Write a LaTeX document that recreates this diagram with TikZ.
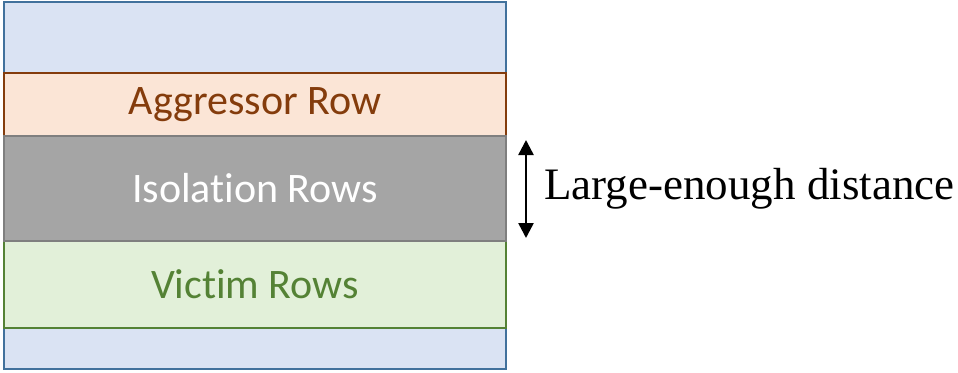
\documentclass[tikz,border=0pt]{standalone}
\usepackage{fontspec}
\setmainfont{Liberation Serif}
\newfontfamily\rowfont[Ligatures={NoCommon,NoDiscretionary,NoRare}]{Carlito}
\usetikzlibrary{arrows.meta}
\definecolor{bluefill}{RGB}{218,227,243}
\definecolor{blueline}{RGB}{65,113,156}
\definecolor{aggfill}{RGB}{251,229,214}
\definecolor{aggline}{RGB}{132,60,12}
\definecolor{isofill}{RGB}{165,165,165}
\definecolor{isoline}{RGB}{127,127,127}
\definecolor{vicfill}{RGB}{226,240,217}
\definecolor{vicline}{RGB}{84,130,53}
\tikzset{
  rowbox/.style={rectangle, inner sep=0pt, line width=2pt, minimum width=502pt, font=\rowfont\fontsize{42}{50}\selectfont},
}
\begin{document}
\begin{tikzpicture}[x=1pt,y=-1pt]
\useasboundingbox (0,0) rectangle (958,372);
\node[rectangle, inner sep=0pt, line width=2pt, draw=blueline, fill=bluefill, minimum width=502pt, minimum height=367pt] (outer) at (255,185.5) {};
\node[rowbox, draw=aggline, fill=aggfill, text=aggline, minimum height=63pt] (agg) at (255,104.5) {Aggressor Row};
\node[rowbox, draw=vicline, fill=vicfill, text=vicline, minimum height=87pt] (vic) at (255,284.5) {Victim Rows};
\node[rowbox, draw=isoline, fill=isofill, text=white, minimum height=105pt] (iso) at (255,188.5) {Isolation Rows};
\coordinate (atop) at (526,140);
\coordinate (abot) at (526,238);
\draw[line width=2.5pt, {Triangle[width=15pt,length=15pt]}-{Triangle[width=15pt,length=15pt]}] (atop) -- (abot);
\node[anchor=west, inner sep=0pt, font=\fontsize{45}{52}\selectfont] (lbl) at (544,189) {Large-enough distance};
\end{tikzpicture}
\end{document}
